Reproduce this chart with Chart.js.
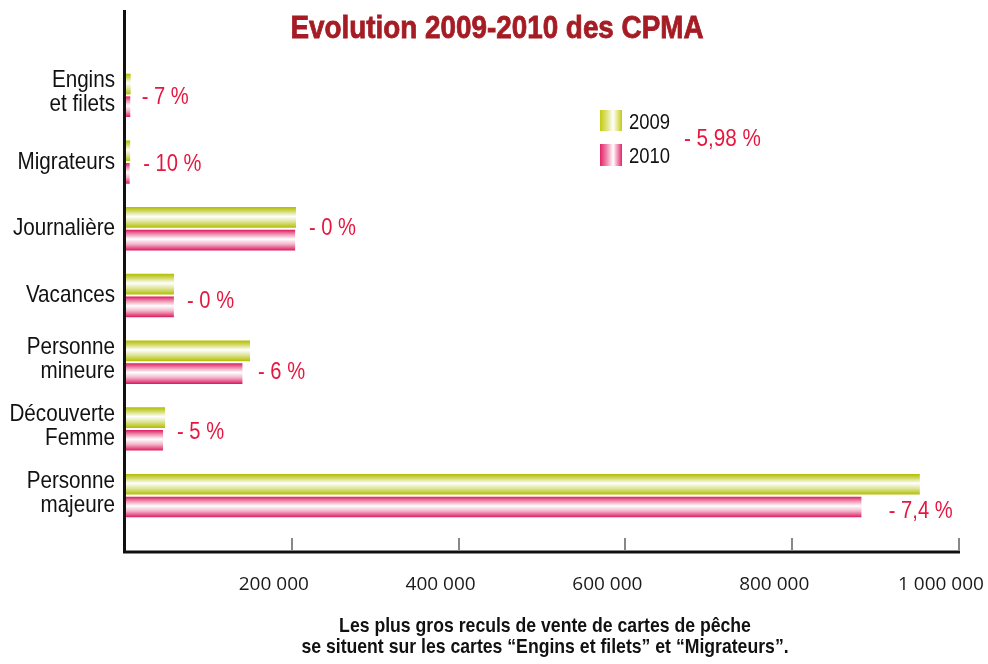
<!DOCTYPE html>
<html>
<head>
<meta charset="utf-8">
<script src="https://cdn.jsdelivr.net/npm/chart.js@4.4.1/dist/chart.umd.min.js"></script>
<style>
  html, body { margin: 0; padding: 0; background: #fff; }
</style>
</head>
<body>
<canvas id="myChart" width="988" height="664"></canvas>
<script>
// Chart data
var categories = [
  ["Engins", "et filets"],
  ["Migrateurs"],
  ["Journalière"],
  ["Vacances"],
  ["Personne", "mineure"],
  ["Découverte", "Femme"],
  ["Personne", "majeure"]
];
var years = ["2009", "2010"];
var sales2009 = [6800, 6200, 205000, 58800, 149900, 48000, 953000];
var sales2010 = [6300, 5600, 204000, 58600, 140800, 45600, 883000];
var changeLabels = ["- 7 %", "- 10 %", "- 0 %", "- 0 %", "- 6 %", "- 5 %", "- 7,4 %"];
var totalChange = "- 5,98 %";
var xTicks = [200000, 400000, 600000, 800000, 1000000];
var title = "Evolution 2009-2010 des CPMA";
var caption = [
  "Les plus gros reculs de vente de cartes de pêche",
  "se situent sur les cartes \u201cEngins et filets\u201d et \u201cMigrateurs\u201d."
];

// label placement next to the longest bar of each group (dx, dy in px)
var changeOffsets = [[11, 0], [13, 0], [13, -2], [13, 4], [8, 8], [12, 2], [-31, 14]];

// Arial-metric font squeezed horizontally to look like a condensed face
var sans = '"Liberation Sans", Arial, sans-serif';
var squeeze = 0.84;
var red = '#e5173f';

function fmt(v) {
  return String(v).replace(/\B(?=(\d{3})+(?!\d))/g, ' ');
}

function drawText(ctx, text, x, y, font, align, sx, stroke) {
  ctx.save();
  ctx.font = font;
  ctx.textAlign = align;
  ctx.translate(x, y);
  ctx.scale(sx || squeeze, 1);
  ctx.fillText(text, 0, 0);
  if (stroke) {
    ctx.lineWidth = stroke;
    ctx.strokeText(text, 0, 0);
  }
  ctx.restore();
}

// vertical gradient inside a bar
function barGradient(ctx, top, h, dark, mid, light) {
  var g = ctx.createLinearGradient(0, top, 0, top + h);
  g.addColorStop(0, dark);
  g.addColorStop(0.18, mid);
  g.addColorStop(0.45, '#ffffff');
  g.addColorStop(0.7, light);
  g.addColorStop(1, dark);
  return g;
}

// horizontal gradient for the legend swatch
function swatchGradient(ctx, x, w, dark, light) {
  var g = ctx.createLinearGradient(x, 0, x + w, 0);
  g.addColorStop(0, dark);
  g.addColorStop(0.3, light);
  g.addColorStop(0.6, '#ffffff');
  g.addColorStop(1, dark);
  return g;
}

var gradientBars = {
  id: 'gradientBars',
  beforeDatasetsDraw: function(chart) {
    var ctx = chart.ctx;
    chart.data.datasets.forEach(function(ds, i) {
      var meta = chart.getDatasetMeta(i);
      meta.data.forEach(function(el) {
        var top = el.y - el.height / 2;
        if (i === 0) {
          el.options.backgroundColor = barGradient(ctx, top, el.height, '#b2be00', '#cdd65a', '#dfe59a');
        } else {
          el.options.backgroundColor = barGradient(ctx, top, el.height, '#dc1a5e', '#ec7fa4', '#f3b3c9');
        }
      });
    });
  }
};

var decorations = {
  id: 'decorations',
  afterDraw: function(chart) {
    var ctx = chart.ctx;
    var xs = chart.scales.x;
    var ys = chart.scales.y;
    ctx.save();

    // axes
    ctx.strokeStyle = '#111';
    ctx.lineWidth = 3;
    ctx.beginPath();
    ctx.moveTo(124.5, 10);
    ctx.lineTo(124.5, 552);
    ctx.lineTo(xs.getPixelForValue(1000000) + 1, 552);
    ctx.stroke();

    // tick marks
    ctx.strokeStyle = '#888';
    ctx.lineWidth = 2;
    xTicks.forEach(function(v) {
      var px = Math.round(xs.getPixelForValue(v));
      ctx.beginPath();
      ctx.moveTo(px, 538);
      ctx.lineTo(px, 551);
      ctx.stroke();
    });

    ctx.textBaseline = 'alphabetic';

    // category labels
    ctx.fillStyle = '#111';
    categories.forEach(function(lines, i) {
      var cy = ys.getPixelForValue(i);
      if (lines.length === 1) {
        drawText(ctx, lines[0], 115, cy + 6.5, '24px ' + sans, 'right', 0.86);
      } else {
        drawText(ctx, lines[0], 115, cy - 8, '24px ' + sans, 'right', 0.86);
        drawText(ctx, lines[1], 115, cy + 16, '24px ' + sans, 'right', 0.86);
      }
    });

    // title
    ctx.fillStyle = '#a51c24';
    ctx.strokeStyle = '#a51c24';
    drawText(ctx, title, 497, 38, 'bold 32px ' + sans, 'center', 0.87, 0.8);

    // caption
    ctx.fillStyle = '#111';
    drawText(ctx, caption[0], 545, 632, 'bold 21px ' + sans, 'center');
    drawText(ctx, caption[1], 545, 653, 'bold 21px ' + sans, 'center');

    // change labels
    ctx.fillStyle = red;
    changeLabels.forEach(function(t, i) {
      var end = xs.getPixelForValue(Math.max(sales2009[i], sales2010[i]));
      var cy = ys.getPixelForValue(i);
      drawText(ctx, t, end + changeOffsets[i][0], cy + changeOffsets[i][1] + 8.5, '24px ' + sans, 'left');
    });

    // legend
    ctx.fillStyle = swatchGradient(ctx, 600, 22, '#c4cb10', '#dde27a');
    ctx.fillRect(600, 110, 22, 21);
    ctx.fillStyle = swatchGradient(ctx, 600, 22, '#e2236a', '#ef86aa');
    ctx.fillRect(600, 144, 22, 22);
    ctx.fillStyle = '#111';
    drawText(ctx, years[0], 629, 128.5, '22px ' + sans, 'left');
    drawText(ctx, years[1], 629, 162.5, '22px ' + sans, 'left');
    ctx.fillStyle = red;
    drawText(ctx, totalChange, 684, 146, '24px ' + sans, 'left', 0.86);

    ctx.restore();
  }
};

var ctx = document.getElementById('myChart');

var data = {
  labels: categories,
  datasets: [{
    label: years[0],
    data: sales2009,
    backgroundColor: function(c) { return '#b7c200'; },
    borderWidth: 0
  }, {
    label: years[1],
    data: sales2010,
    backgroundColor: function(c) { return '#dd2363'; },
    borderWidth: 0
  }]
};

var options = {
  indexAxis: 'y',
  responsive: false,
  animation: false,
  devicePixelRatio: 1,
  categoryPercentage: 0.68,
  barPercentage: 0.91,
  layout: {
    padding: { top: 62, right: 29, bottom: 0, left: 0 }
  },
  plugins: {
    legend: { display: false },
    title: { display: false },
    tooltip: { enabled: false }
  },
  scales: {
    x: {
      min: 0,
      max: 1000000,
      grid: { display: false, drawTicks: false, tickLength: 0 },
      border: { display: false },
      afterBuildTicks: function(s) {
        s.ticks = xTicks.map(function(v) { return { value: v }; });
      },
      afterFit: function(s) {
        s.height = 135;
        s.paddingLeft = 0;
        s.paddingRight = 0;
      },
      ticks: {
        autoSkip: false,
        maxRotation: 0,
        padding: 44,
        labelOffset: -18,
        color: '#1a1a1a',
        font: { family: '"Open Sans", sans-serif', size: 19 },
        callback: function(v) { return fmt(v); }
      }
    },
    y: {
      grid: { display: false, drawTicks: false, tickLength: 0 },
      border: { display: false },
      afterFit: function(s) {
        s.width = 125;
        s.paddingTop = 0;
        s.paddingBottom = 0;
      },
      ticks: { display: false }
    }
  }
};

var myChart = new Chart(ctx, {
  type: 'bar',
  data: data,
  options: options,
  plugins: [gradientBars, decorations]
});
</script>
</body>
</html>
